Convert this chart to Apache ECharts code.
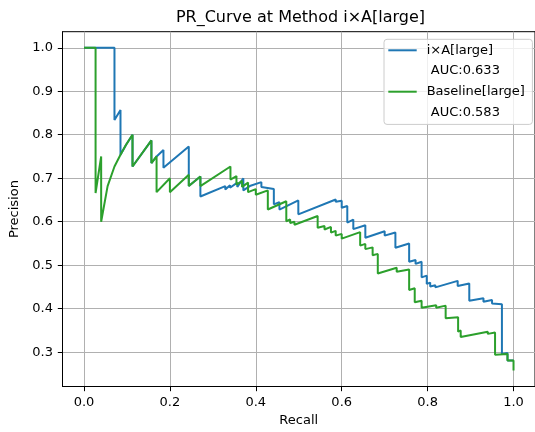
<!DOCTYPE html>
<html>
<head>
<meta charset="utf-8">
<script src="https://cdn.jsdelivr.net/npm/echarts@6/dist/echarts.min.js"></script>
<style>html,body{margin:0;padding:0;background:#fff;}#c{width:535px;height:432px;}</style>
</head>
<body>
<div id="c"></div>
<script>
const titleText = 'PR_Curve at Method i×A[large]';
const seriesNames = ['i×A[large]', 'Baseline[large]'];
const aucLabels = [' AUC:0.633', ' AUC:0.583'];
const xTicks = [0, 0.2, 0.4, 0.6, 0.8, 1.0];
const yTicks = [0.3, 0.4, 0.5, 0.6, 0.7, 0.8, 0.9, 1.0];

const blueRecall = [0, 0.071, 0.071, 0.085, 0.085, 0.098, 0.113, 0.113, 0.157, 0.157, 0.169, 0.185, 0.185, 0.244, 0.244, 0.271, 0.271, 0.329, 0.329, 0.340, 0.340, 0.357, 0.357, 0.371, 0.371, 0.386, 0.413, 0.413, 0.442, 0.442, 0.455, 0.455, 0.499, 0.499, 0.586, 0.586, 0.600, 0.600, 0.613, 0.613, 0.627, 0.627, 0.655, 0.655, 0.700, 0.700, 0.725, 0.725, 0.757, 0.757, 0.772, 0.772, 0.786, 0.786, 0.798, 0.798, 0.806, 0.806, 0.818, 0.818, 0.870, 0.870, 0.897, 0.897, 0.930, 0.930, 0.950, 0.950, 0.973, 0.973, 0.986, 0.986, 1.0];
const bluePrecision = [1.0, 1.0, 0.834, 0.857, 0.754, 0.777, 0.800, 0.727, 0.787, 0.735, 0.750, 0.765, 0.724, 0.773, 0.682, 0.704, 0.658, 0.682, 0.674, 0.684, 0.678, 0.690, 0.680, 0.700, 0.672, 0.682, 0.691, 0.680, 0.675, 0.640, 0.645, 0.628, 0.649, 0.617, 0.651, 0.646, 0.648, 0.632, 0.636, 0.598, 0.605, 0.583, 0.592, 0.563, 0.578, 0.568, 0.575, 0.540, 0.550, 0.508, 0.512, 0.503, 0.508, 0.472, 0.476, 0.457, 0.460, 0.451, 0.454, 0.449, 0.464, 0.452, 0.458, 0.418, 0.424, 0.416, 0.420, 0.412, 0.410, 0.296, 0.298, 0.281, 0.281];

const greenRecall = [0, 0.027, 0.027, 0.040, 0.040, 0.055, 0.071, 0.085, 0.098, 0.113, 0.113, 0.157, 0.157, 0.169, 0.169, 0.200, 0.200, 0.244, 0.244, 0.271, 0.271, 0.341, 0.341, 0.355, 0.355, 0.368, 0.368, 0.382, 0.382, 0.400, 0.400, 0.428, 0.428, 0.471, 0.471, 0.480, 0.480, 0.490, 0.490, 0.544, 0.544, 0.560, 0.560, 0.575, 0.575, 0.586, 0.586, 0.600, 0.600, 0.643, 0.643, 0.655, 0.655, 0.672, 0.672, 0.684, 0.684, 0.728, 0.728, 0.757, 0.757, 0.770, 0.770, 0.786, 0.786, 0.820, 0.820, 0.842, 0.842, 0.871, 0.871, 0.877, 0.877, 0.940, 0.940, 0.957, 0.957, 0.986, 0.986, 1.0, 1.0];
const greenPrecision = [1.0, 1.0, 0.666, 0.750, 0.600, 0.682, 0.727, 0.754, 0.777, 0.800, 0.727, 0.787, 0.735, 0.750, 0.668, 0.700, 0.668, 0.708, 0.682, 0.704, 0.682, 0.727, 0.697, 0.705, 0.685, 0.694, 0.680, 0.690, 0.668, 0.675, 0.662, 0.672, 0.628, 0.647, 0.601, 0.605, 0.597, 0.600, 0.593, 0.613, 0.586, 0.590, 0.582, 0.588, 0.575, 0.579, 0.568, 0.572, 0.561, 0.576, 0.545, 0.549, 0.537, 0.541, 0.523, 0.526, 0.481, 0.494, 0.485, 0.490, 0.443, 0.447, 0.415, 0.418, 0.402, 0.408, 0.402, 0.407, 0.378, 0.380, 0.347, 0.350, 0.335, 0.347, 0.342, 0.345, 0.294, 0.296, 0.281, 0.281, 0.258];

function zip(a, b) { return a.map((v, i) => [v, b[i]]); }

const FONT = 'DejaVu Sans';
const chart = echarts.init(document.getElementById('c'), null, {renderer: 'canvas'});
chart.setOption({
  animation: false,
  backgroundColor: '#fff',
  title: {
    text: titleText, left: 300.5, top: 10, textAlign: 'center', padding: 0,
    textStyle: {fontFamily: FONT, fontSize: 16, fontWeight: 'normal', color: '#000'}
  },
  grid: {left: 62.5, top: 31.7, right: -4.7, bottom: 44, show: true, borderColor: '#000', borderWidth: 1, backgroundColor: 'transparent'},
  legend: {
    orient: 'vertical', left: 384, top: 39.3,
    padding: [3.5, 7.5, 4.5, 4.3], itemGap: 5.7, itemWidth: 28.4, itemHeight: 2,
    selectedMode: false,
    backgroundColor: 'rgba(255,255,255,0.8)', borderColor: '#cccccc', borderWidth: 1, borderRadius: 3,
    textStyle: {fontFamily: FONT, fontSize: 13, color: '#000', lineHeight: 15, padding: [0, 0, 0, 5]},
    data: [
      {name: seriesNames[0], icon: 'rect'},
      {name: aucLabels[0], icon: 'none'},
      {name: seriesNames[1], icon: 'rect'},
      {name: aucLabels[1], icon: 'none'}
    ]
  },
  xAxis: {
    type: 'value', min: -0.05, max: 1.05,
    name: 'Recall', nameLocation: 'middle', nameGap: 27.5,
    nameTextStyle: {fontFamily: FONT, fontSize: 13, color: '#000'},
    axisLine: {show: true, onZero: false, lineStyle: {color: '#000', width: 1}},
    axisTick: {show: true, inside: false, length: 4.7, customValues: xTicks, lineStyle: {color: '#000', width: 1}},
    axisLabel: {customValues: xTicks, margin: 9.5, fontFamily: FONT, fontSize: 13, color: '#000', formatter: v => v.toFixed(1)},
    splitLine: {show: true, lineStyle: {color: '#b0b0b0', width: 1}}
  },
  yAxis: {
    type: 'value', min: 0.221, max: 1.037,
    name: 'Precision', nameLocation: 'middle', nameGap: 38,
    nameTextStyle: {fontFamily: FONT, fontSize: 13, color: '#000'},
    axisLine: {show: true, onZero: false, lineStyle: {color: '#000', width: 1}},
    axisTick: {show: true, inside: false, length: 4.7, customValues: yTicks, lineStyle: {color: '#000', width: 1}},
    axisLabel: {customValues: yTicks, margin: 9.5, fontFamily: FONT, fontSize: 13, color: '#000', formatter: v => v.toFixed(1)},
    splitLine: {show: true, lineStyle: {color: '#b0b0b0', width: 1}}
  },
  series: [
    {name: seriesNames[0], type: 'line', data: zip(blueRecall, bluePrecision), showSymbol: false, symbol: 'none',
     color: '#1f77b4', lineStyle: {color: '#1f77b4', width: 2}, itemStyle: {color: '#1f77b4'}},
    {name: aucLabels[0], type: 'line', data: [], symbol: 'none', color: 'transparent'},
    {name: seriesNames[1], type: 'line', data: zip(greenRecall, greenPrecision), showSymbol: false, symbol: 'none',
     color: '#2ca02c', lineStyle: {color: '#2ca02c', width: 2}, itemStyle: {color: '#2ca02c'}},
    {name: aucLabels[1], type: 'line', data: [], symbol: 'none', color: 'transparent'}
  ]
});
</script>
</body>
</html>
